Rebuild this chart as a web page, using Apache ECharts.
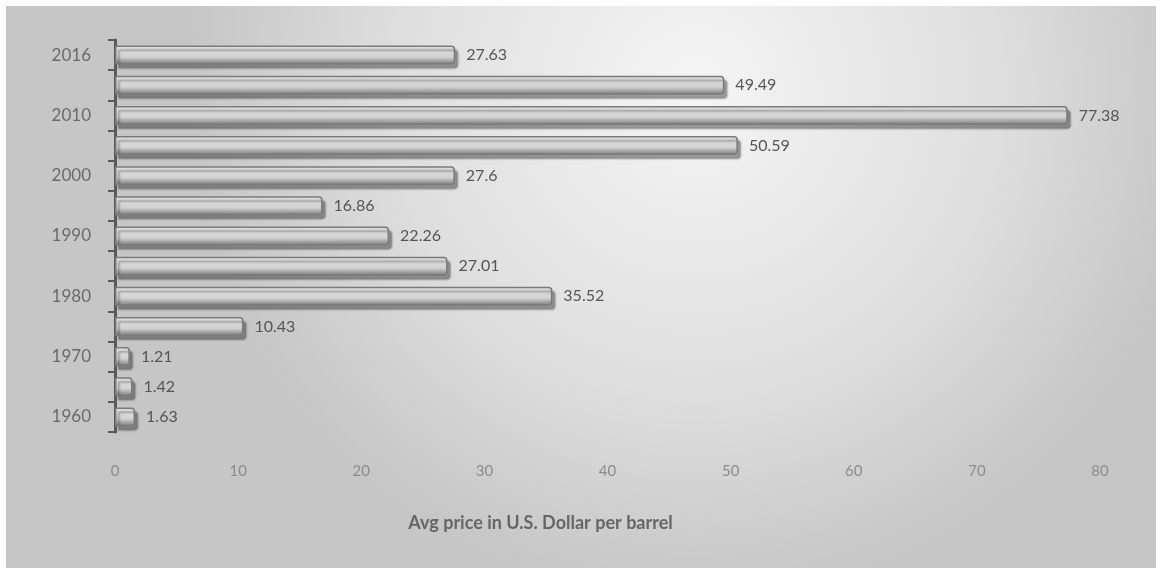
<!DOCTYPE html>
<html>
<head>
<meta charset="utf-8">
<title>Avg oil price</title>
<style>
  html, body { margin: 0; padding: 0; background: #ffffff; }
  #chart { position: absolute; left: 6px; top: 6px; width: 1150px; height: 562px; }
</style>
</head>
<body>
<div id="chart"></div>
<script src="https://cdn.jsdelivr.net/npm/echarts@6/dist/echarts.min.js"></script>
<script>
// years, bottom to top (only every other one gets a label)
var years = ['1960', '1965', '1970', '1975', '1980', '1985', '1990', '1995', '2000', '2005', '2010', '2013', '2016'];
var prices = [1.63, 1.42, 1.21, 10.43, 35.52, 27.01, 22.26, 16.86, 27.6, 50.59, 77.38, 49.49, 27.63];
var xTicks = [0, 10, 20, 30, 40, 50, 60, 70, 80];
var xName = 'Avg price in U.S. Dollar per barrel';

var chart = echarts.init(document.getElementById('chart'));

var option = {
  backgroundColor: {
    type: 'radial', x: 0.6, y: 0.15, r: 0.9,
    colorStops: [
      { offset: 0, color: '#f5f5f5' },
      { offset: 0.6, color: '#dedede' },
      { offset: 1, color: '#c6c6c6' }
    ]
  },
  textStyle: { fontFamily: 'Lato, "Open Sans", sans-serif' },
  grid: { left: 109, right: 56, top: 34, bottom: 136 },
  xAxis: {
    type: 'value',
    min: xTicks[0],
    max: xTicks[xTicks.length - 1],
    interval: 10,
    axisLine: { show: false },
    axisTick: { show: false },
    splitLine: { show: false },
    axisLabel: { color: '#8c8c8c', fontSize: 15, margin: 32 },
    name: xName,
    nameLocation: 'middle',
    nameGap: 82,
    // name sits left of the plot centre in the original
    nameTextStyle: { color: '#666666', fontSize: 18, fontWeight: 'bold', padding: [0, 134, 0, 0] }
  },
  yAxis: {
    type: 'category',
    data: years,
    axisLine: { lineStyle: { color: '#5a5a5a', width: 3 } },
    axisTick: { show: true, interval: 0, length: 7, lineStyle: { color: '#5a5a5a', width: 2 } },
    axisLabel: { interval: 1, color: '#6a6a6a', fontSize: 17, margin: 24 }
  },
  series: [{
    type: 'bar',
    data: prices,
    barWidth: 19,
    itemStyle: {
      color: {
        type: 'linear', x: 0, y: 0, x2: 0, y2: 1,
        colorStops: [
          { offset: 0, color: '#e2e2e2' },
          { offset: 0.6, color: '#d2d2d2' },
          { offset: 0.8, color: '#a4a4a4' },
          { offset: 1, color: '#767676' }
        ]
      },
      borderColor: '#7a7a7a',
      borderWidth: 1.5,
      borderRadius: [0, 3, 3, 0],
      shadowColor: 'rgba(0, 0, 0, 0.35)',
      shadowBlur: 2,
      shadowOffsetX: 3,
      shadowOffsetY: 4
    },
    label: {
      show: true,
      position: 'right',
      distance: 11,
      color: '#555555',
      fontSize: 16
    }
  }]
};

chart.setOption(option);
</script>
</body>
</html>
